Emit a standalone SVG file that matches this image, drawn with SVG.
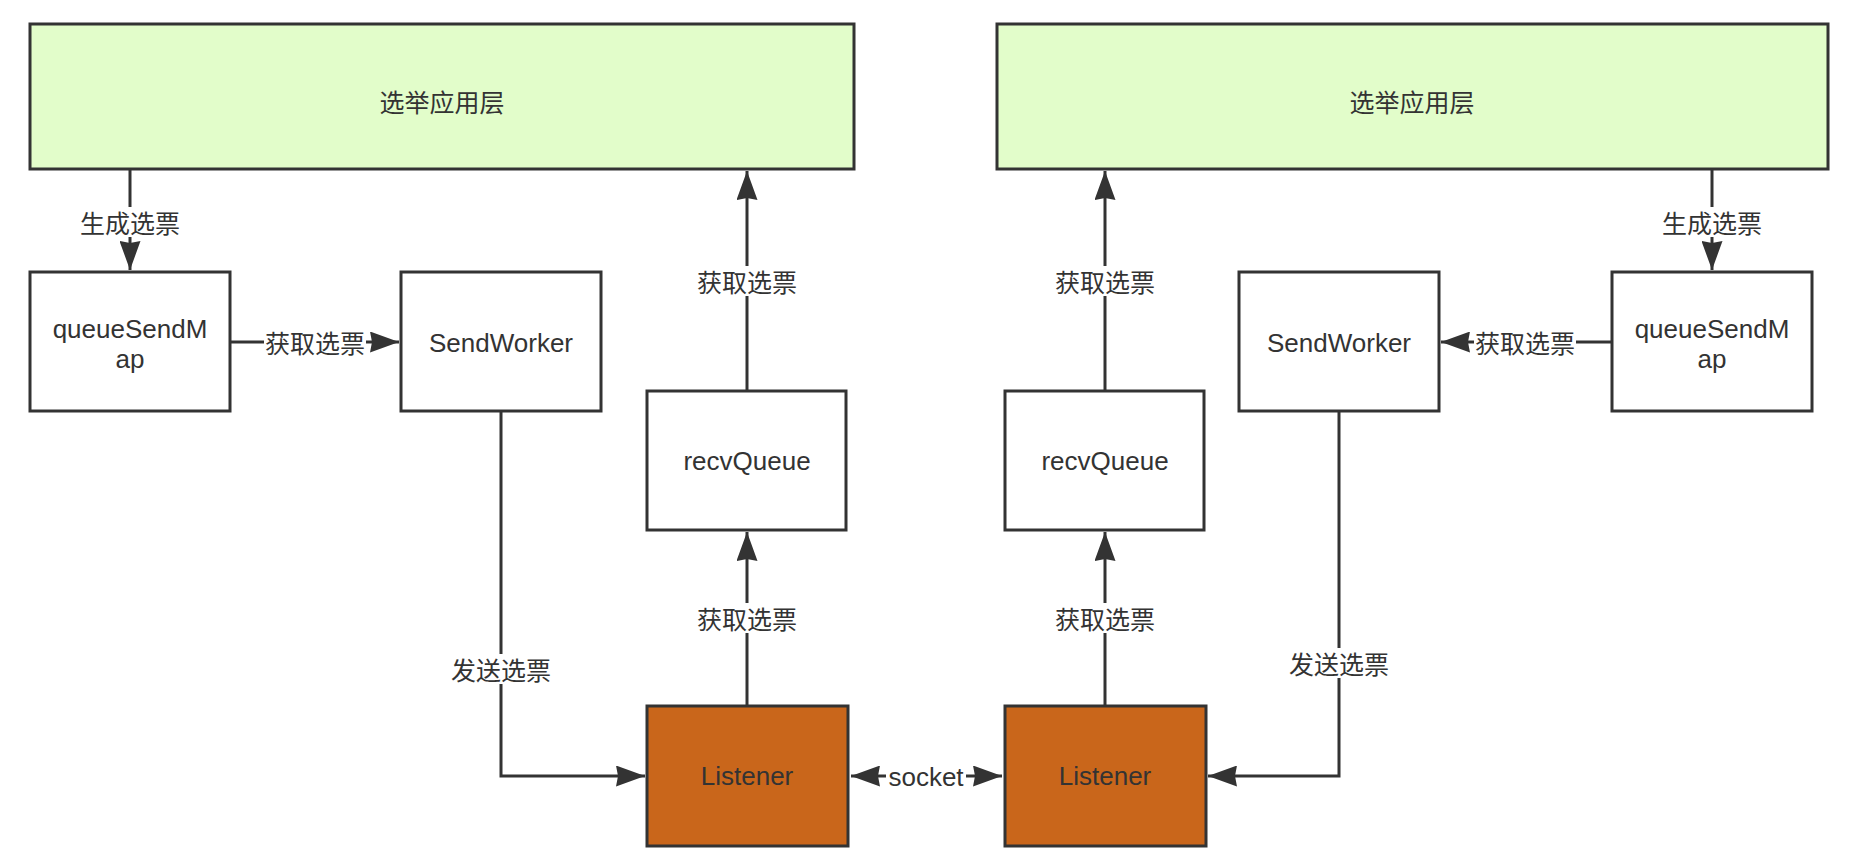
<svg xmlns="http://www.w3.org/2000/svg" width="1854" height="868" viewBox="0 0 1854 868">
<style>
  .box{fill:#ffffff;stroke:#333333;stroke-width:3}
  .green{fill:#e2fdca;stroke:#333333;stroke-width:3}
  .orange{fill:#c9661b;stroke:#333333;stroke-width:3}
  .t{font-family:"Liberation Sans","Noto Sans CJK SC",sans-serif;font-size:26px;fill:#333333;text-anchor:middle;dominant-baseline:central}
  .cn{font-family:"Noto Sans CJK SC","Liberation Sans",sans-serif;font-size:25px;fill:#333333;text-anchor:middle;dominant-baseline:central}
  .ln{fill:none;stroke:#333333;stroke-width:3}
  .bg{fill:#ffffff}
</style>
<defs>
  <marker id="arr" viewBox="0 0 29 21" refX="29" refY="10.5" markerWidth="29" markerHeight="21" markerUnits="userSpaceOnUse" orient="auto-start-reverse">
    <path d="M0,0 L29,10.5 L0,21 L2,10.5 z" fill="#333333"/>
  </marker>
</defs>
<rect width="1854" height="868" fill="#ffffff"/>

<g id="app-left"><rect class="green" x="30" y="24" width="824" height="145"/><text class="cn" x="442" y="101">选举应用层</text></g>
<g id="app-right"><rect class="green" x="997" y="24" width="831" height="145"/><text class="cn" x="1412" y="101">选举应用层</text></g>

<g id="queueSendMap-left"><rect class="box" x="30" y="272" width="200" height="139"/><text class="t" x="130" y="329">queueSendM</text><text class="t" x="130" y="359">ap</text></g>
<g id="sendWorker-left"><rect class="box" x="401" y="272" width="200" height="139"/><text class="t" x="501" y="343">SendWorker</text></g>
<g id="recvQueue-left"><rect class="box" x="647" y="391" width="199" height="139"/><text class="t" x="747" y="461">recvQueue</text></g>
<g id="listener-left"><rect class="orange" x="647" y="706" width="201" height="140"/><text class="t" x="747" y="776">Listener</text></g>

<g id="recvQueue-right"><rect class="box" x="1005" y="391" width="199" height="139"/><text class="t" x="1105" y="461">recvQueue</text></g>
<g id="listener-right"><rect class="orange" x="1005" y="706" width="201" height="140"/><text class="t" x="1105" y="776">Listener</text></g>
<g id="sendWorker-right"><rect class="box" x="1239" y="272" width="200" height="139"/><text class="t" x="1339" y="343">SendWorker</text></g>
<g id="queueSendMap-right"><rect class="box" x="1612" y="272" width="200" height="139"/><text class="t" x="1712" y="329">queueSendM</text><text class="t" x="1712" y="359">ap</text></g>

<g id="connectors">
  <path class="ln" d="M130,170 V270" marker-end="url(#arr)"/>
  <path class="ln" d="M1712,170 V270" marker-end="url(#arr)"/>
  <path class="ln" d="M231,342 H399" marker-end="url(#arr)"/>
  <path class="ln" d="M1611,342 H1441" marker-end="url(#arr)"/>
  <path class="ln" d="M747,390 V171" marker-end="url(#arr)"/>
  <path class="ln" d="M1105,390 V171" marker-end="url(#arr)"/>
  <path class="ln" d="M747,705 V532" marker-end="url(#arr)"/>
  <path class="ln" d="M1105,705 V532" marker-end="url(#arr)"/>
  <path class="ln" d="M501,412 V776 H645" marker-end="url(#arr)"/>
  <path class="ln" d="M1339,412 V776 H1208" marker-end="url(#arr)"/>
  <path class="ln" d="M851,776 H1002" marker-start="url(#arr)" marker-end="url(#arr)"/>

  <rect class="bg" x="78" y="207" width="104" height="30"/><text class="cn" x="130" y="222">生成选票</text>
  <rect class="bg" x="1660" y="207" width="104" height="30"/><text class="cn" x="1712" y="222">生成选票</text>
  <rect class="bg" x="264" y="327" width="102" height="30"/><text class="cn" x="315" y="342">获取选票</text>
  <rect class="bg" x="1474" y="327" width="102" height="30"/><text class="cn" x="1525" y="342">获取选票</text>
  <rect class="bg" x="695" y="266" width="104" height="30"/><text class="cn" x="747" y="281">获取选票</text>
  <rect class="bg" x="1053" y="266" width="104" height="30"/><text class="cn" x="1105" y="281">获取选票</text>
  <rect class="bg" x="695" y="603" width="104" height="30"/><text class="cn" x="747" y="618">获取选票</text>
  <rect class="bg" x="1053" y="603" width="104" height="30"/><text class="cn" x="1105" y="618">获取选票</text>
  <rect class="bg" x="449" y="654" width="104" height="30"/><text class="cn" x="501" y="669">发送选票</text>
  <rect class="bg" x="1287" y="648" width="104" height="30"/><text class="cn" x="1339" y="663">发送选票</text>
  <rect class="bg" x="886" y="762" width="80" height="28"/><text class="t" x="926" y="777">socket</text>
</g>
</svg>
